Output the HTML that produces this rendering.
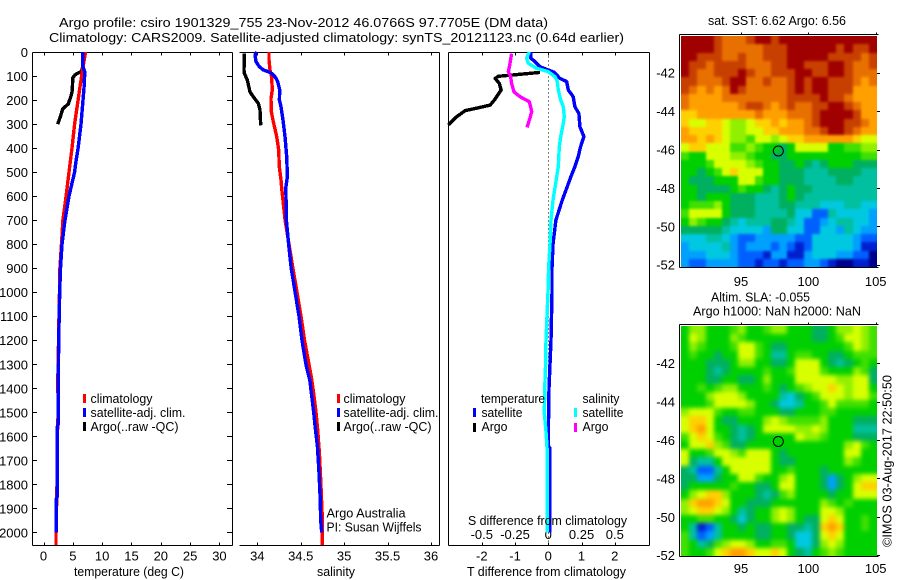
<!DOCTYPE html>
<html lang="en">
<head>
<meta charset="utf-8">
<title>Argo profile</title>
<style>
html,body{margin:0;padding:0;background:#fff;}
svg{display:block;}
text{font-family:"Liberation Sans",sans-serif;font-size:13px;fill:#000;}
</style>
</head>
<body>
<svg id="chart" xmlns="http://www.w3.org/2000/svg" width="900" height="580" viewBox="0 0 900 580">
<defs>
<filter id="blur-sst" filterUnits="userSpaceOnUse" x="660" y="15" width="240" height="275" color-interpolation-filters="sRGB"><feGaussianBlur stdDeviation="1.2"/></filter>
<filter id="blur-sla" filterUnits="userSpaceOnUse" x="660" y="305" width="240" height="275" color-interpolation-filters="sRGB"><feGaussianBlur stdDeviation="2"/></filter>
<clipPath id="clip-sst"><rect x="681" y="36" width="196" height="231"/></clipPath>
<clipPath id="clip-sla"><rect x="681" y="326" width="196" height="230"/></clipPath>
</defs>
<rect x="0" y="0" width="900" height="580" fill="#fff"/>
<g id="layer"></g>
<text x="59" y="27" textLength="489" lengthAdjust="spacingAndGlyphs" font-size="14">Argo profile: csiro 1901329_755 23-Nov-2012 46.0766S 97.7705E (DM data)</text>
<text x="49" y="42" textLength="575" lengthAdjust="spacingAndGlyphs" font-size="14">Climatology: CARS2009. Satellite-adjusted climatology: synTS_20121123.nc (0.64d earlier)</text>

<text x="74" y="576" textLength="110" lengthAdjust="spacingAndGlyphs">temperature (deg C)</text>
<text x="317" y="576" textLength="38" lengthAdjust="spacingAndGlyphs">salinity</text>
<text x="467" y="576" textLength="159" lengthAdjust="spacingAndGlyphs">T difference from climatology</text>
<text x="468" y="525" textLength="159" lengthAdjust="spacingAndGlyphs">S difference from climatology</text>

<g>
<rect x="83" y="394" width="3" height="9" fill="#f00"/>
<rect x="83" y="408" width="3" height="9" fill="#00f"/>
<rect x="83" y="422" width="3" height="9" fill="#000"/>
<text x="90.5" y="403" textLength="62" lengthAdjust="spacingAndGlyphs">climatology</text>
<text x="90.5" y="417" textLength="95" lengthAdjust="spacingAndGlyphs">satellite-adj. clim.</text>
<text x="90.5" y="431" textLength="88" lengthAdjust="spacingAndGlyphs">Argo(..raw -QC)</text>
</g>
<g>
<rect x="337" y="394" width="3" height="9" fill="#f00"/>
<rect x="337" y="408" width="3" height="9" fill="#00f"/>
<rect x="337" y="422" width="3" height="9" fill="#000"/>
<text x="343.5" y="403" textLength="62" lengthAdjust="spacingAndGlyphs">climatology</text>
<text x="343.5" y="417" textLength="95" lengthAdjust="spacingAndGlyphs">satellite-adj. clim.</text>
<text x="343.5" y="431" textLength="88" lengthAdjust="spacingAndGlyphs">Argo(..raw -QC)</text>
</g>
<text x="326.5" y="517.5" textLength="79" lengthAdjust="spacingAndGlyphs">Argo Australia</text>
<text x="326.5" y="531.5" textLength="95" lengthAdjust="spacingAndGlyphs">PI: Susan Wijffels</text>

<g>
<text x="481" y="403" textLength="64" lengthAdjust="spacingAndGlyphs">temperature</text>
<text x="582.5" y="403" textLength="37" lengthAdjust="spacingAndGlyphs">salinity</text>
<rect x="473" y="408" width="3" height="9" fill="#00f"/>
<rect x="473" y="423" width="3" height="9" fill="#000"/>
<rect x="574" y="408" width="3" height="9" fill="#0ff"/>
<rect x="574" y="423" width="3" height="9" fill="#f0f"/>
<text x="481.5" y="417" textLength="41" lengthAdjust="spacingAndGlyphs">satellite</text>
<text x="481.5" y="431" textLength="26" lengthAdjust="spacingAndGlyphs">Argo</text>
<text x="582.5" y="417" textLength="41" lengthAdjust="spacingAndGlyphs">satellite</text>
<text x="582.5" y="431" textLength="26" lengthAdjust="spacingAndGlyphs">Argo</text>
</g>

<text x="708" y="25" textLength="138" lengthAdjust="spacingAndGlyphs">sat. SST: 6.62 Argo: 6.56</text>
<text x="711" y="301.5" textLength="99" lengthAdjust="spacingAndGlyphs">Altim. SLA: -0.055</text>
<text x="693" y="315.5" textLength="168" lengthAdjust="spacingAndGlyphs">Argo h1000: NaN h2000: NaN</text>
<text transform="translate(891.5,547) rotate(-90)" textLength="172" lengthAdjust="spacingAndGlyphs">©IMOS 03-Aug-2017 22:50:50</text>
</svg>

<script>
// ---------- depth axis ----------
const depthTicks = [0,100,200,300,400,500,600,700,800,900,1000,1100,1200,1300,1400,1500,1600,1700,1800,1900,2000];

// ---------- temperature panel ----------
const tempTicks = [0,5,10,15,20,25,30];
const climTempDepth = [0,100,200,300,400,500,600,700,800,900,1000,1100,1200,1300,1400,1500,1600,1800,2000,2052];
const climTemp = [7.16,6.5,5.9,5.3,4.86,4.35,3.85,3.3,3.07,2.8,2.73,2.65,2.57,2.47,2.45,2.5,2.35,2.3,2.13,2.13];
const satTempDepth = [0,60,80,100,150,200,300,400,460,500,600,700,800,900,1000,1200,1400,1550,1560,1850,1860,2000];
const satTemp = [6.68,6.68,7.0,7.0,6.9,6.73,6.4,5.9,5.5,5.3,4.35,3.67,3.15,2.9,2.76,2.6,2.5,2.5,2.35,2.35,2.18,2.18];
const argoTempDepth = [5,60,80,95,107,162,182,216,237,265,300];
const argoTemp = [6.7,6.7,6.5,5.37,5.0,4.9,4.7,4.23,3.27,2.93,2.42];

// ---------- salinity panel ----------
const salTicks = [34,34.5,35,35.5,36];
const climSalDepth = [0,33,75,103,158,193,248,290,352,408,477,533,568,700,800,900,1000,1100,1200,1300,1366,1435,1504,1574,1671,1782,1920,2052];
const climSal = [34.135,34.135,34.146,34.165,34.173,34.158,34.161,34.184,34.223,34.246,34.253,34.273,34.281,34.32,34.365,34.41,34.457,34.503,34.543,34.595,34.627,34.654,34.677,34.696,34.715,34.73,34.746,34.75];
const satSalDepth = [0,12,40,61,75,82,89,103,123,158,200,228,283,352,436,519,568,600,700,800,900,1000,1100,1200,1300,1366,1435,1504,1574,1640,1750,1850,1950,2000];
const satSal = [33.993,33.974,33.985,34.023,34.07,34.127,34.165,34.204,34.235,34.258,34.254,34.273,34.296,34.319,34.338,34.346,34.327,34.33,34.335,34.36,34.39,34.435,34.48,34.515,34.56,34.604,34.627,34.65,34.67,34.692,34.71,34.723,34.73,34.742];
const argoSalDepth = [7,75,89,117,166,186,214,242,305];
const argoSal = [33.851,33.847,33.851,33.885,33.916,33.954,34.012,34.031,34.039];

// ---------- difference panel ----------
const tDiffTicks = [-2,-1,0,1,2];
const sDiffTickValues = [-0.5,-0.25,0,0.25,0.5];
const sDiffTickLabels = ["-0.5","-0.25","0","0.25","0.5"];
const satTDiffDepth = [0,26,40,61,75,85,110,123,158,186,228,256,311,352,394,436,477,519,568,616,700,800,900,1000,1200,1400,1600,1640,1650,2000];
const satTDiff = [-0.53,-0.53,-0.4,-0.25,0,0.18,0.35,0.55,0.6,0.75,0.8,0.92,0.95,1.07,0.97,0.9,0.8,0.68,0.55,0.42,0.23,0.14,0.11,0.11,0.08,0.02,0,0,0.05,0.05];
const satSDiffDepth = [0,26,47,68,82,103,123,158,200,228,270,311,352,394,477,519,568,616,700,800,900,1000,1100,1200,1300,1366,1503,1574,1657,2000];
const satSDiff = [-0.143,-0.163,-0.15,-0.088,0,0.05,0.068,0.075,0.093,0.113,0.12,0.108,0.093,0.083,0.075,0.063,0.05,0.035,0.02,0.013,0.002,-0.002,-0.01,-0.017,-0.02,-0.025,-0.03,-0.018,-0.008,-0.008];
const argoTDiffDepth = [85,93,101,110,131,158,200,221,234,244,270,297,304];
const argoTDiff = [-0.25,-0.85,-1.5,-1.6,-1.47,-1.42,-1.62,-1.75,-2.16,-2.5,-2.76,-2.96,-3.0];
const argoSDiffDepth = [7,47,82,103,131,166,186,207,248,276,314];
const argoSDiff = [-0.276,-0.288,-0.3,-0.283,-0.276,-0.258,-0.213,-0.143,-0.125,-0.138,-0.16];

// ---------- maps ----------
const mapLonTicks = [95,100,105];
const mapLatTicks = [-42,-44,-46,-48,-50,-52];
const floatLon = [97.7705];
const floatLat = [-46.0766];
const sstLevels = [
[15,15,15,15,14,13,13,13,14,15,15,14,15,15,15,15,15,15,15,15,15,15,15,15],
[15,15,15,15,14,13,13,13,13,13,14,14,14,15,15,15,15,15,15,14,15,14,14,15],
[15,15,14,14,14,13,13,14,13,13,14,14,14,15,15,15,15,15,14,14,14,14,13,14],
[15,14,14,13,14,14,14,14,13,13,13,14,14,15,15,14,14,14,15,15,14,13,13,14],
[15,14,13,13,14,14,14,15,14,13,13,14,14,14,15,15,14,14,15,15,14,13,13,13],
[14,14,13,13,13,14,15,15,13,13,14,13,13,14,15,14,15,15,14,14,14,13,12,13],
[14,13,12,13,12,13,15,14,13,13,13,13,13,14,15,14,15,15,14,14,14,12,12,12],
[13,12,12,12,12,13,13,13,13,13,13,13,13,14,14,14,14,15,14,14,13,12,12,12],
[13,12,12,12,12,12,12,13,14,14,13,12,13,14,13,13,14,14,15,15,14,13,12,12],
[11,11,12,12,12,12,12,12,12,13,12,12,12,13,13,13,14,15,15,15,15,14,12,12],
[11,10,10,11,11,10,9,9,10,11,11,12,11,12,12,13,14,15,15,15,14,14,13,12],
[12,11,11,11,11,10,9,9,10,10,11,11,12,12,12,13,13,14,15,15,14,13,12,12],
[12,12,11,12,11,10,9,9,8,10,10,9,10,11,11,12,12,12,12,12,12,11,10,10],
[10,11,11,10,10,10,8,8,9,8,7,7,6,7,10,10,10,10,7,7,8,8,9,9],
[8,7,7,10,10,10,9,9,8,7,7,6,6,7,7,7,7,7,7,7,7,7,8,8],
[7,7,7,8,10,10,10,10,9,8,7,7,6,6,7,6,5,6,7,7,7,6,6,6],
[7,7,6,7,8,10,11,10,10,10,7,7,6,6,6,5,5,5,6,6,6,6,5,5],
[7,6,6,6,7,7,7,10,10,8,7,7,6,6,6,5,5,5,5,6,6,5,5,5],
[7,7,6,6,6,6,7,8,7,7,6,5,6,7,6,6,5,5,5,5,5,5,5,5],
[7,7,6,7,7,7,6,6,6,5,5,5,6,7,6,5,5,5,5,5,5,5,5,5],
[7,8,8,8,9,7,6,6,6,5,5,5,6,6,5,5,5,4,4,4,5,5,4,4],
[8,10,10,10,10,7,6,6,6,5,5,5,5,6,4,4,2,2,5,4,4,4,4,3],
[7,9,8,7,7,6,5,4,5,5,5,6,6,5,4,2,2,3,4,5,5,4,4,3],
[6,6,6,6,6,5,4,4,4,4,3,6,6,4,4,2,2,4,4,3,5,4,3,3],
[4,4,4,5,5,4,3,2,2,3,3,3,3,3,2,2,4,4,4,4,4,3,2,2],
[3,4,4,4,4,5,3,2,3,3,3,2,3,2,1,2,4,4,4,4,4,3,1,1],
[3,3,3,4,4,4,3,2,2,2,1,3,3,1,1,3,4,4,4,3,3,2,2,0],
[3,2,2,3,3,3,3,2,2,1,2,2,1,2,2,3,3,2,1,0,0,1,1,0]
];
const slaLevels = [
[7,9,9,7,7,7,8,9,7,7,8,9,9,7,7,7,6,6,7,9,9,10,9,8],
[7,10,9,7,7,7,9,8,7,7,7,7,7,7,7,7,6,6,7,8,10,10,9,8],
[7,9,8,7,7,7,8,10,10,8,7,6,6,7,7,7,7,7,7,7,8,10,9,8],
[7,8,7,7,6,7,7,10,10,8,7,5,5,7,8,8,7,7,6,6,7,8,8,8],
[7,7,7,6,6,6,7,9,9,7,7,6,6,7,10,10,10,7,6,5,6,7,8,7],
[7,7,7,6,5,6,7,7,7,7,8,7,7,8,10,10,10,8,7,7,7,9,8,6],
[7,7,7,6,6,7,7,6,6,7,9,7,7,7,10,10,10,10,10,9,9,10,10,6],
[7,7,8,7,8,9,9,7,7,7,8,7,6,7,8,9,10,10,11,10,9,10,10,7],
[7,7,7,9,10,10,10,9,7,7,7,7,5,4,6,7,8,10,10,10,9,10,10,8],
[7,7,7,8,10,10,10,10,9,7,7,6,4,4,5,7,7,8,10,8,8,8,8,7],
[9,10,10,10,8,7,7,8,8,7,7,7,6,6,7,7,7,8,8,7,7,7,7,7],
[10,11,11,10,7,6,6,7,7,7,9,10,9,8,8,8,8,9,7,7,7,6,6,6],
[10,11,12,10,7,7,6,5,6,7,10,10,10,10,9,9,10,9,7,7,7,5,5,5],
[8,10,11,10,8,7,6,5,6,7,7,7,7,7,10,9,9,8,7,7,7,6,6,6],
[7,10,10,11,9,8,6,6,7,7,7,7,7,7,7,7,7,7,7,7,9,10,8,7],
[10,7,7,8,10,10,9,8,10,10,10,7,6,7,7,7,7,7,7,7,10,10,7,7],
[10,6,5,5,7,10,10,10,10,10,10,7,6,6,7,7,7,7,7,7,9,8,7,7],
[6,5,2,2,5,7,10,10,10,10,10,7,7,8,7,7,7,6,7,7,7,7,7,7],
[6,6,3,3,6,7,7,10,10,8,7,7,9,10,7,7,7,6,3,6,7,9,10,10],
[6,7,7,7,7,7,8,7,7,6,6,7,10,10,7,7,7,6,3,6,7,10,11,11],
[7,9,10,11,11,9,7,7,7,6,5,6,8,9,7,7,7,7,6,7,7,10,10,10],
[9,11,12,12,11,10,7,7,6,6,6,7,7,7,7,7,7,9,8,7,8,7,7,7],
[9,10,11,11,10,9,7,5,6,7,7,9,10,9,7,7,7,10,10,9,7,7,7,7],
[7,7,8,8,7,7,6,4,6,7,7,9,10,9,7,6,6,10,11,10,7,7,8,7],
[7,5,1,2,5,7,7,6,7,6,6,7,7,6,6,5,6,11,12,11,7,7,8,7],
[8,5,2,3,5,7,7,7,7,6,6,7,7,6,4,4,6,10,11,10,7,7,7,7],
[8,7,5,6,8,9,10,10,9,7,7,8,8,7,4,4,6,9,10,9,7,7,7,7],
[8,7,7,8,10,11,12,12,11,10,10,11,10,7,6,5,7,8,9,8,7,7,7,7]
];
const mapPalette = ["#00008f","#0020d0","#0060ff","#00a0ff","#00c8e0","#00c0a0","#00b060","#00d000","#40e000","#90f000","#d8ff00","#ffd000","#ffa000","#e87000","#c84000","#a00000"];

// ---------- scales ----------
const NS = "http://www.w3.org/2000/svg";
const layer = document.getElementById("layer");
let target = layer;
const yDepth = d => 52 + d * 0.2402;
const xTemp = t => 43.5 + t * 5.865;
const xSal = s => 257.3 + (s - 34) * 86.85;
const xTDiff = t => 548.3 + t * 33.25;
const xSDiff = s => 548.3 + s * 133;
const TOP = 52.5, BOTTOM = 545.5;

function mk(tag, attrs, text) {
  const el = document.createElementNS(NS, tag);
  for (const k in attrs) el.setAttribute(k, attrs[k]);
  if (text !== undefined) el.textContent = text;
  target.appendChild(el);
  return el;
}
function seg(x1, y1, x2, y2) {
  const el = mk("line", {x1:x1, y1:y1, x2:x2, y2:y2, stroke:"#000", "stroke-width":1, "shape-rendering":"crispEdges"});
  return el;
}
function tickLabel(x, y, str, anchor) {
  const el = mk("text", {x:x, y:y, "text-anchor":anchor}, str);
  
  
  return el;
}
function frame(x0, x1, hasLeft) {
  const top = seg(x0, TOP, x1, TOP);
  
  
  const bot = seg(x0, BOTTOM, x1, BOTTOM);
  
  
  const right = seg(x1, TOP, x1, BOTTOM);
  
  
  if (hasLeft) {
    const left = seg(x0, TOP, x0, BOTTOM);
    
    
  }
}
function xTicks(xs) {
  xs.forEach(x => {
    const a = seg(Math.round(x) + .5, TOP, Math.round(x) + .5, TOP + 3);
    
    
    const b = seg(Math.round(x) + .5, BOTTOM - 3, Math.round(x) + .5, BOTTOM);
    
    
  });
}
function curve(depths, values, xf, color, name) {
  const pts = depths.map((d, i) => xf(values[i]).toFixed(1) + "," + yDepth(d).toFixed(1)).join(" ");
  const el = mk("polyline", {points:pts, fill:"none", stroke:color, "stroke-width":3.4, "stroke-linejoin":"round", "shape-rendering":"crispEdges"});
  
  
  return el;
}

// ---------- temperature panel ----------
frame(32.5, 232.5, true);
depthTicks.forEach(d => {
  const y = Math.round(yDepth(d)) + .5;
  const l = seg(32.5, y, 37, y);
  
  
  const r = seg(227, y, 232.5, y);
  
  
  tickLabel(28, yDepth(d) + 5, String(d), "end");
});
xTicks(tempTicks.map(xTemp));
tempTicks.forEach(t => tickLabel(xTemp(t), 560.5, String(t), "middle"));
curve(argoTempDepth, argoTemp, xTemp, "#000", "argo-temperature-line");
curve(climTempDepth, climTemp, xTemp, "#f00", "climatology-temperature-line");
curve(satTempDepth, satTemp, xTemp, "#00f", "satellite-temperature-line");

// ---------- salinity panel ----------
frame(239.5, 439.5, false);
xTicks(salTicks.map(xSal));
salTicks.forEach(s => tickLabel(xSal(s), 560.5, String(s), "middle"));
curve(argoSalDepth, argoSal, xSal, "#000", "argo-salinity-line");
curve(climSalDepth, climSal, xSal, "#f00", "climatology-salinity-line");
curve(satSalDepth, satSal, xSal, "#00f", "satellite-salinity-line");

// ---------- difference panel ----------
frame(448.5, 649.5, true);
xTicks(tDiffTicks.map(xTDiff));
tDiffTicks.forEach(t => tickLabel(xTDiff(t), 560.5, String(t), "middle"));
sDiffTickValues.forEach((s, i) => tickLabel(xSDiff(s), 539, sDiffTickLabels[i], "middle"));
const zeroLine = mk("line", {x1:Math.round(xTDiff(0)) + .5, y1:TOP, x2:Math.round(xTDiff(0)) + .5, y2:BOTTOM, stroke:"#000", "stroke-width":1, "stroke-dasharray":"1 3", "shape-rendering":"crispEdges"});


curve(argoTDiffDepth, argoTDiff, xTDiff, "#000", "argo-t-difference-line");
curve(argoSDiffDepth, argoSDiff, xSDiff, "#f0f", "argo-s-difference-line");
curve(satTDiffDepth, satTDiff, xTDiff, "#00f", "satellite-t-difference-line");
curve(satSDiffDepth, satSDiff, xSDiff, "#0ff", "satellite-s-difference-line");

// ---------- maps ----------
function drawMap(levels, box, lat46Y, cellName, clipId, blurId) {
  const rows = levels.length, cols = levels[0].length;
  const cw = (box.right - box.left) / cols, ch = (box.bottom - box.top) / rows;
  const clipGroup = mk("g", {"clip-path":"url(#" + clipId + ")"});
  
  
  target = clipGroup;
  const blurGroup = mk("g", {filter:"url(#" + blurId + ")"});
  target = blurGroup;
  levels.forEach((row, r) => row.forEach((v, c) => {
    const i = Math.max(0, Math.min(mapPalette.length - 1, Math.round(v)));
    // edge cells run past the clip so the smoothing does not fade into the page background
    const x0 = c === 0 ? box.left - 14 : Math.round(box.left + c * cw);
    const x1 = c === cols - 1 ? box.right + 14 : Math.round(box.left + (c + 1) * cw);
    const y0 = r === 0 ? box.top - 14 : Math.round(box.top + r * ch);
    const y1 = r === rows - 1 ? box.bottom + 14 : Math.round(box.top + (r + 1) * ch);
    const cell = mk("rect", {x:x0, y:y0, width:x1 - x0, height:y1 - y0, fill:mapPalette[i], "shape-rendering":"crispEdges"});
    
    
  }));
  target = layer;
  const xLon = lon => 741 + (lon - 95) * 13.47;
  const yLat = lat => lat46Y + (-46 - lat) * 19.2;
  const fl = 679.5, fr = 878.5, ft = box.top - 1.5, fb = box.bottom + .5;
  const t = seg(fl, ft, fr, ft);
  
  
  const b = seg(fl, fb, fr, fb);
  
  
  const l = seg(fl, ft, fl, fb);
  
  
  mapLonTicks.forEach(lon => {
    const x = Math.round(xLon(lon)) + .5;
    const tk = seg(x, ft - 2, x, ft);
    
    
    tickLabel(xLon(lon), box.labelY, String(lon), "middle");
  });
  mapLatTicks.forEach(lat => {
    const y = Math.round(yLat(lat)) + .5;
    const tk = seg(877, y, 880, y);
    
    
    tickLabel(675, yLat(lat) + 5, String(lat), "end");
  });
  const mark = mk("circle", {cx:xLon(floatLon[0]), cy:yLat(floatLat[0]), r:5, fill:"none", stroke:"#000", "stroke-width":1});
  
  
}
drawMap(sstLevels, {left:681, right:877, top:36, bottom:267, labelY:286}, 149.5, "sst-cell", "clip-sst", "blur-sst");
drawMap(slaLevels, {left:681, right:877, top:326, bottom:556, labelY:573}, 440, "sla-cell", "clip-sla", "blur-sla");
</script>
</body>
</html>
